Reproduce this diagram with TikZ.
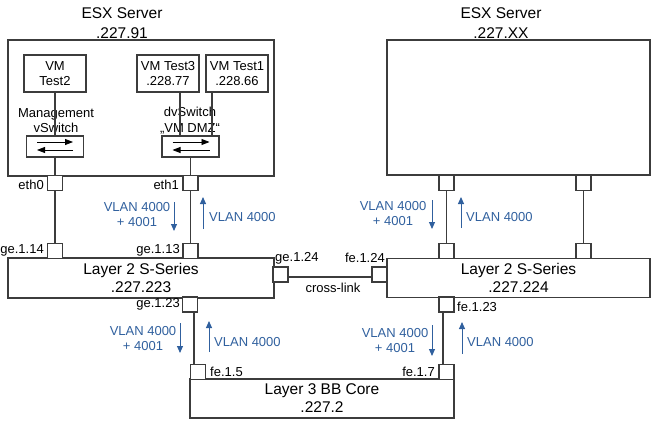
\documentclass[tikz,border=0pt]{standalone}
\usepackage{fontspec}
\setmainfont{Liberation Sans}
\usetikzlibrary{arrows.meta}
\definecolor{vlanblue}{RGB}{48,96,158}
\definecolor{linegray}{RGB}{60,60,60}
\begin{document}
\begin{tikzpicture}[x=1pt,y=-1pt,
  bigbox/.style={draw=linegray, line width=1.2pt, inner sep=0pt, align=center, font=\fontsize{15.5}{18}\selectfont},
  title/.style={inner sep=0pt, align=center, font=\fontsize{15.5}{20}\selectfont},
  vmbox/.style={draw=linegray, line width=1.2pt, inner sep=0pt, align=center, font=\fontsize{13}{15}\selectfont, minimum width=62pt, minimum height=37pt},
  port/.style={draw=linegray, line width=1.2pt, fill=white, inner sep=0pt, minimum width=15pt, minimum height=15pt},
  swbox/.style={draw=linegray, line width=1.2pt, inner sep=0pt, minimum width=57pt, minimum height=21pt},
  lbl/.style={inner sep=0pt, font=\fontsize{13}{15}\selectfont},
  swlbl/.style={inner sep=0pt, align=center, font=\fontsize{13}{15.5}\selectfont},
  vlan/.style={inner sep=0pt, text=vlanblue, align=center, font=\fontsize{13}{15}\selectfont},
  vlanarrow/.style={draw=vlanblue, line width=1pt, -{Triangle[width=6pt,length=7pt]}},
  link/.style={draw=linegray, line width=1.2pt},
  swarrow/.style={draw=black, line width=0.8pt, -{Triangle[width=6pt,length=8pt]}},
]
\useasboundingbox (0,0) rectangle (652,420);

% ---- titles
\node[title] (tL) at (122,23) {ESX Server\\.227.91};
\node[title] (tR) at (501,23) {ESX Server\\.227.XX};

% ---- ESX boxes
\node[bigbox, minimum width=266pt, minimum height=136pt] (esxL) at (141,108) {};
\node[bigbox, minimum width=263pt, minimum height=135pt] (esxR) at (518.5,107.5) {};

% ---- VMs
\node[vmbox] (vm2) at (55,73.5) {VM\\Test2};
\node[vmbox] (vm3) at (168,73.5) {VM Test3\\.228.77};
\node[vmbox] (vm1) at (237,73.5) {VM Test1\\.228.66};

% ---- switch labels
\node[swlbl] (mgmt) at (56,120.5) {Management\\vSwitch};
\node[swlbl] (dvs) at (190,120.5) {dvSwitch\\„VM DMZ“};

% ---- switches
\node[swbox] (sw1) at (55,146.5) {};
\node[swbox] (sw2) at (190.5,146.5) {};

\draw[link] (vm2.south) -- (sw1.north);
\draw[link] ([xshift=12pt]vm3.south) -- ([xshift=12pt]vm3.south |- sw2.north);
\draw[link] ([xshift=-25pt]vm1.south) -- ([xshift=-25pt]vm1.south |- sw2.north);

\draw[swarrow] ([xshift=-18pt,yshift=4.5pt]sw1.center) -- ([xshift=18pt,yshift=4.5pt]sw1.center);
\draw[swarrow] ([xshift=18pt,yshift=-3.5pt]sw1.center) -- ([xshift=-18pt,yshift=-3.5pt]sw1.center);
\draw[swarrow] ([xshift=-18pt,yshift=4.5pt]sw2.center) -- ([xshift=19pt,yshift=4.5pt]sw2.center);
\draw[swarrow] ([xshift=19pt,yshift=-3.5pt]sw2.center) -- ([xshift=-18pt,yshift=-3.5pt]sw2.center);

% ---- layer 2 boxes
\node[bigbox, minimum width=266pt, minimum height=40pt] (l2L) at (141,278) {Layer 2 S-Series\\.227.223};
\node[bigbox, minimum width=263pt, minimum height=39pt] (l2R) at (518.5,278) {Layer 2 S-Series\\.227.224};

% ---- layer 3 box
\node[bigbox, minimum width=264pt, minimum height=39pt] (l3) at (322,398.5) {Layer 3 BB Core\\.227.2};

% ---- ports
\node[port] (eth0) at (55,183) {};
\node[port] (eth1) at (190.5,183) {};
\node[port] (ge114) at (55,251) {};
\node[port] (ge113) at (190.5,251) {};
\node[port] (ge124) at (280.5,274.5) {};
\node[port] (fe124) at (379.5,274.5) {};
\node[port] (rp1) at (446.5,183) {};
\node[port] (rp2) at (583.5,183) {};
\node[port] (rp3) at (446.5,251) {};
\node[port] (rp4) at (583.5,251) {};
\node[port] (ge123) at (190,304.5) {};
\node[port] (fe15) at (198,372) {};
\node[port] (fe123) at (446.5,304.5) {};
\node[port] (fe17) at (446.5,372) {};

% ---- links
\draw[link] (sw1.south) -- (eth0.north);
\draw[link] (sw2.south) -- (eth1.north);
\draw[link] (eth0.south) -- (ge114.north);
\draw[link] (eth1.south) -- (ge113.north);
\draw[link] ([yshift=-2.5pt]ge124.east) -- ([yshift=-2.5pt]fe124.west);
\draw[link] (rp1.south) -- (rp3.north);
\draw[link] (rp2.south) -- (rp4.north);
\draw[link] ([xshift=4pt]ge123.south) -- ([xshift=-4pt]fe15.north);
\draw[link] ([xshift=-3.5pt]fe123.south) -- ([xshift=-3.5pt]fe17.north);

% ---- port labels
\node[lbl, anchor=east] (leth0) at (44,185) {eth0};
\node[lbl, anchor=east] (leth1) at (179,185) {eth1};
\node[lbl, anchor=east] (lge114) at (44,250) {ge.1.14};
\node[lbl, anchor=east] (lge113) at (180,250) {ge.1.13};
\node[lbl, anchor=west] (lge124) at (275,258) {ge.1.24};
\node[lbl, anchor=east] (lfe124) at (385,258) {fe.1.24};
\node[lbl] (lcross) at (333,288) {cross-link};
\node[lbl, anchor=east] (lge123) at (180,304) {ge.1.23};
\node[lbl, anchor=west] (lfe123) at (457,307) {fe.1.23};
\node[lbl, anchor=west] (lfe15) at (210,372) {fe.1.5};
\node[lbl, anchor=east] (lfe17) at (435,372) {fe.1.7};

% ---- VLAN annotations
\node[vlan] (v1a) at (137,214.5) {VLAN 4000\\+ 4001};
\node[vlan, anchor=west] (v1b) at (209,217) {VLAN 4000};
\coordinate (d1s) at (174,202); \coordinate (d1e) at (174,231);
\coordinate (u1s) at (203,229); \coordinate (u1e) at (203,197);
\draw[vlanarrow] (d1s) -- (d1e);
\draw[vlanarrow] (u1s) -- (u1e);

\node[vlan] (v2a) at (393,213.5) {VLAN 4000\\+ 4001};
\node[vlan, anchor=west] (v2b) at (466,217) {VLAN 4000};
\coordinate (d2s) at (432,200); \coordinate (d2e) at (432,229);
\coordinate (u2s) at (461,228); \coordinate (u2e) at (461,197);
\draw[vlanarrow] (d2s) -- (d2e);
\draw[vlanarrow] (u2s) -- (u2e);

\node[vlan] (v3a) at (143,338.5) {VLAN 4000\\+ 4001};
\node[vlan, anchor=west] (v3b) at (214,342) {VLAN 4000};
\coordinate (d3s) at (180,323); \coordinate (d3e) at (180,353);
\coordinate (u3s) at (209,352); \coordinate (u3e) at (209,321);
\draw[vlanarrow] (d3s) -- (d3e);
\draw[vlanarrow] (u3s) -- (u3e);

\node[vlan] (v4a) at (395,340.5) {VLAN 4000\\+ 4001};
\node[vlan, anchor=west] (v4b) at (467,342) {VLAN 4000};
\coordinate (d4s) at (432,325); \coordinate (d4e) at (432,356);
\coordinate (u4s) at (462,354); \coordinate (u4e) at (462,322);
\draw[vlanarrow] (d4s) -- (d4e);
\draw[vlanarrow] (u4s) -- (u4e);
\end{tikzpicture}
\end{document}
